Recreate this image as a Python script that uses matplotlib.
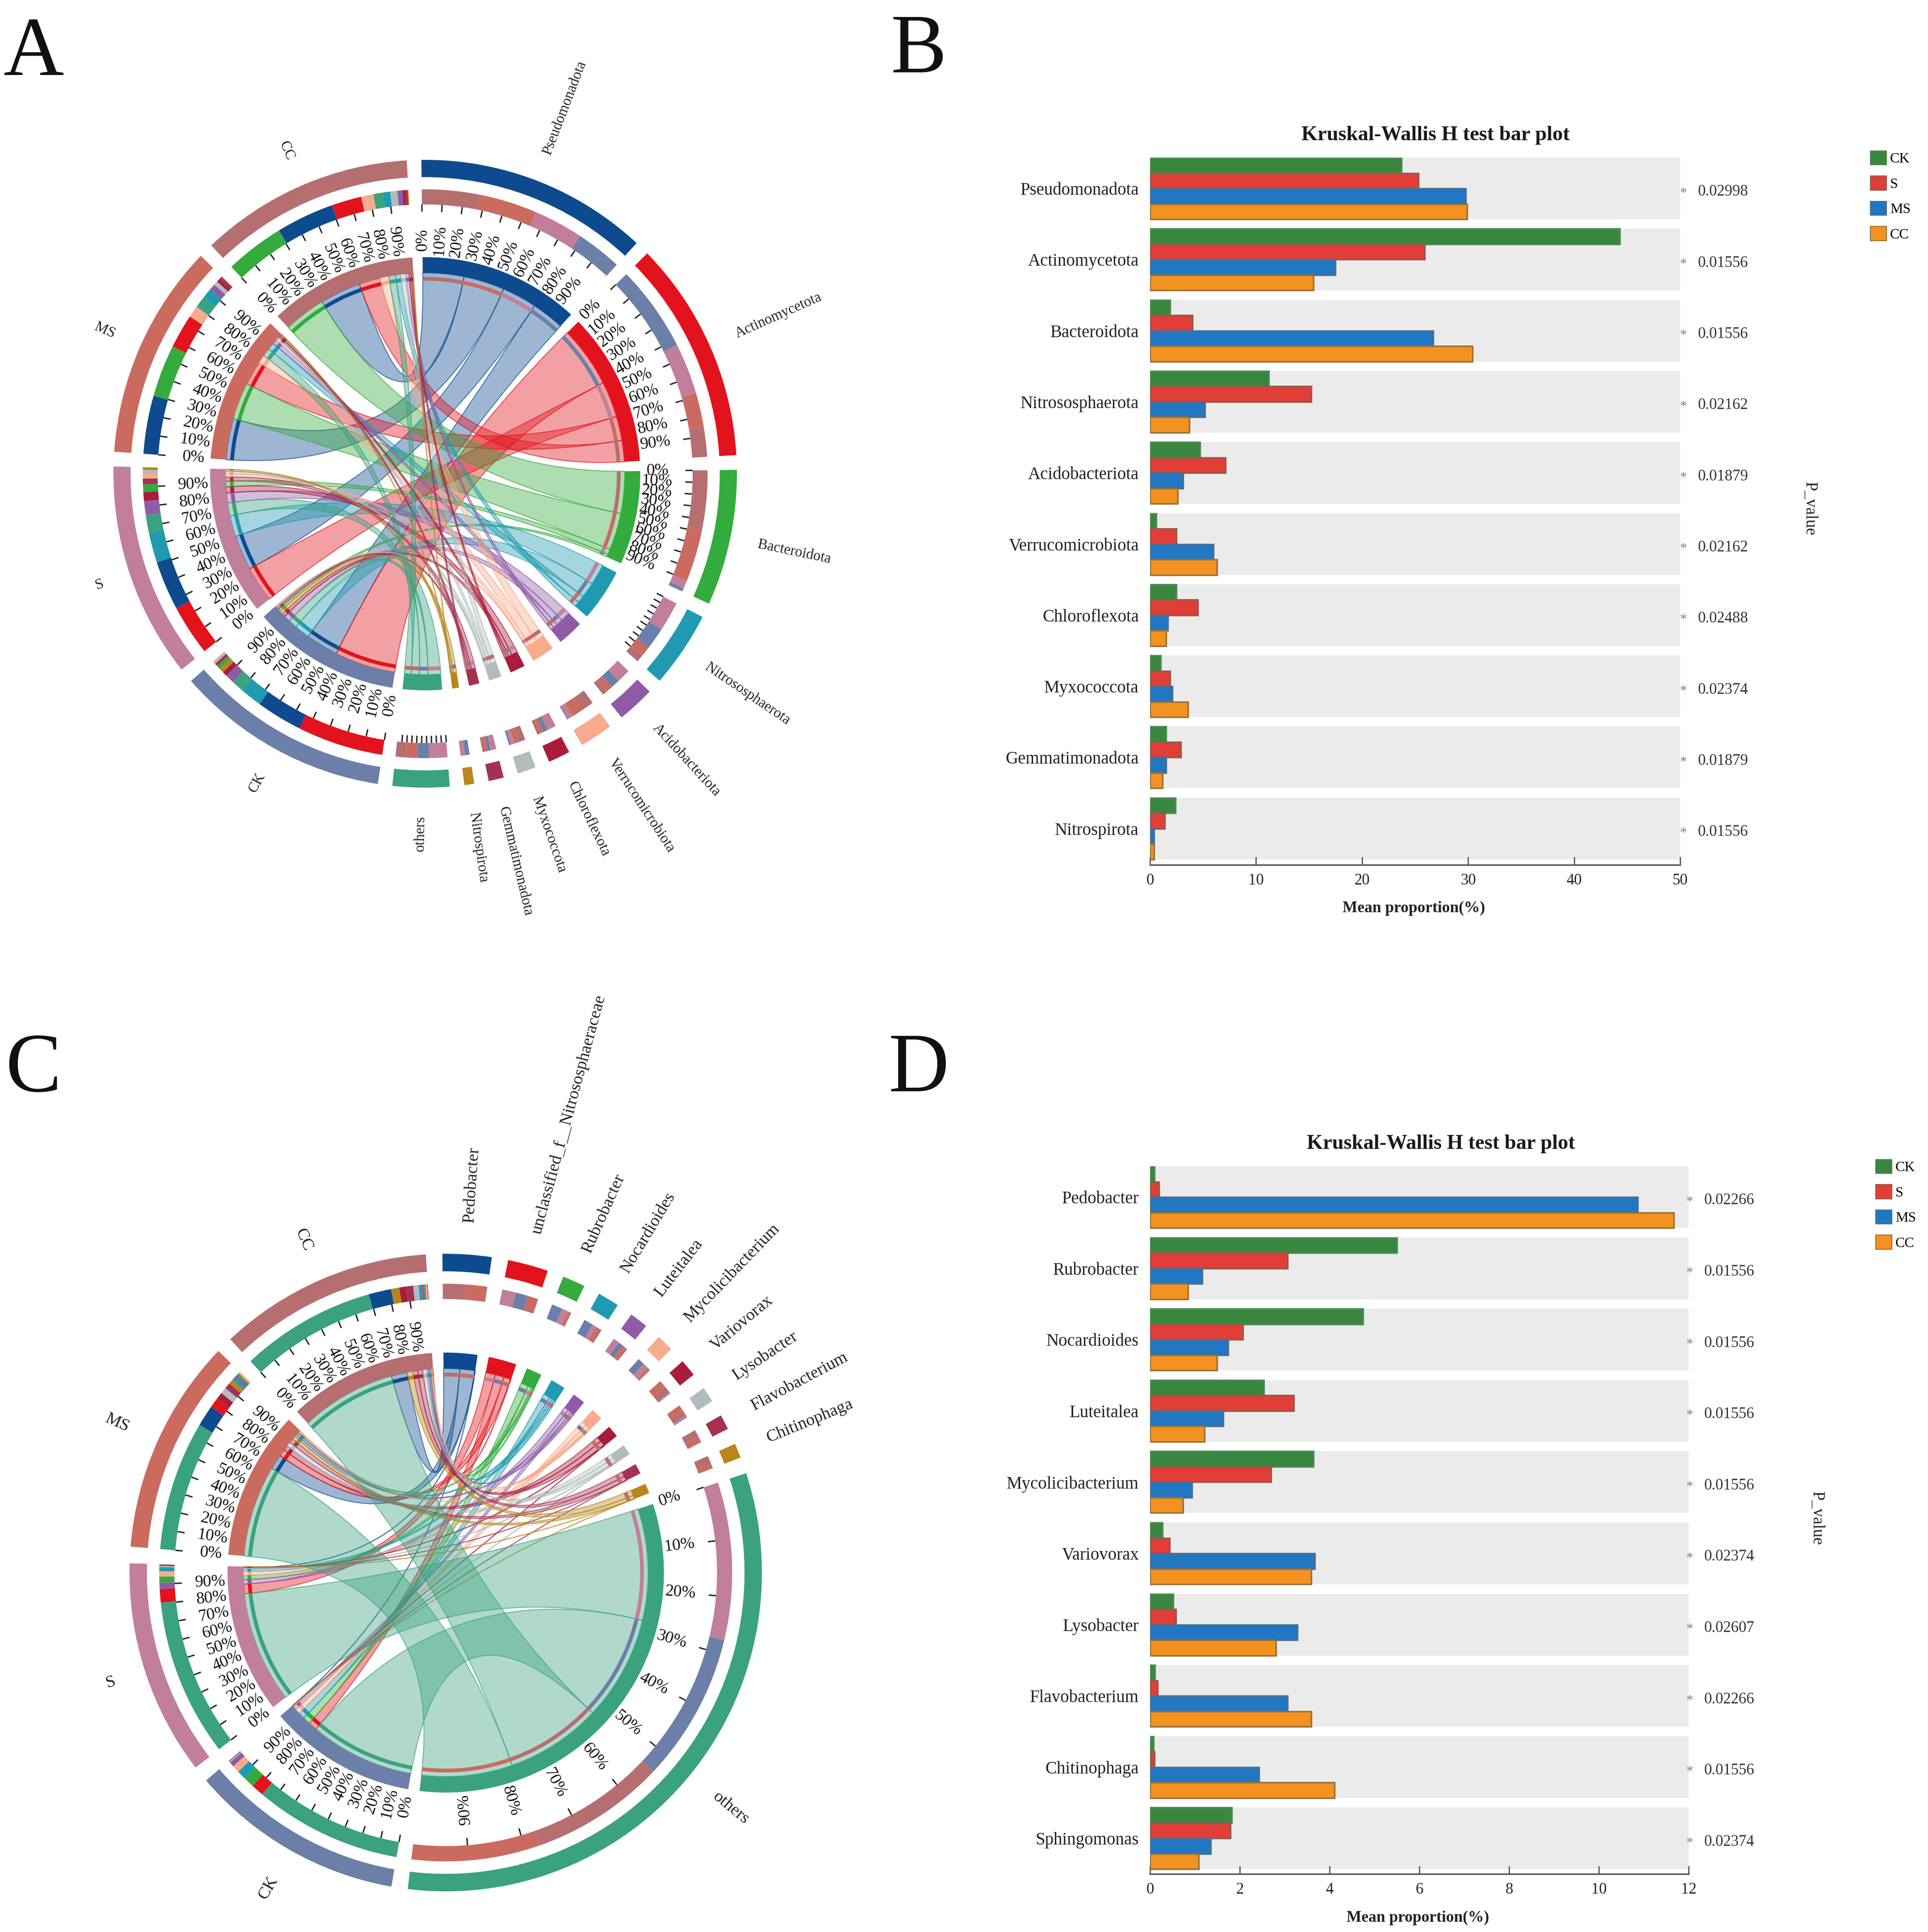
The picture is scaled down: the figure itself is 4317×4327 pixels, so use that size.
import numpy as np
import matplotlib
matplotlib.use("Agg")
import matplotlib.pyplot as plt
from matplotlib.patches import Wedge, PathPatch, Patch
from matplotlib.path import Path

plt.rcParams['font.family'] = ['Liberation Serif', 'DejaVu Serif']

W, H = 4317, 4327
DPI = 100

samples = ['CK', 'S', 'MS', 'CC']
sample_colors = ['#6b7fa9', '#c27f9b', '#cb6b60', '#b56f70']
bar_colors = ['#39873f', '#e23e38', '#2277c3', '#f39220']
edge_colors = ['#4f8a55', '#8f5a4a', '#4f6d8a', '#96703a']
taxa_colors = ['#0e4a8e', '#e2131c', '#33ab3d', '#1f9ab0', '#8f5ba6', '#f8aa8c',
               '#a81d3a', '#b1bcbc', '#a53150', '#b8861e', '#3aa27e']

# panel A / B
phyla = ['Pseudomonadota', 'Actinomycetota', 'Bacteroidota', 'Nitrososphaerota',
         'Acidobacteriota', 'Verrucomicrobiota', 'Chloroflexota', 'Myxococcota',
         'Gemmatimonadota', 'Nitrospirota']
phyla_ck = [23.7, 44.3, 1.9, 11.2, 4.7, 0.6, 2.5, 1.0, 1.5, 2.4]
phyla_s = [25.3, 25.9, 4.0, 15.2, 7.1, 2.5, 4.5, 1.9, 2.9, 1.4]
phyla_ms = [29.8, 17.5, 26.7, 5.2, 3.1, 6.0, 1.7, 2.1, 1.5, 0.4]
phyla_cc = [29.9, 15.4, 30.4, 3.7, 2.6, 6.3, 1.5, 3.6, 1.2, 0.4]
phyla_others = [6.2, 9.3, 6.0, 5.0]
phyla_p = ['0.02998', '0.01556', '0.01556', '0.02162', '0.01879',
           '0.02162', '0.02488', '0.02374', '0.01879', '0.01556']

# panel D
genera = ['Pedobacter', 'Rubrobacter', 'Nocardioides', 'Luteitalea', 'Mycolicibacterium',
          'Variovorax', 'Lysobacter', 'Flavobacterium', 'Chitinophaga', 'Sphingomonas']
genera_ck = [0.1, 5.5, 4.75, 2.54, 3.64, 0.28, 0.52, 0.11, 0.08, 1.82]
genera_s = [0.2, 3.06, 2.07, 3.2, 2.7, 0.44, 0.58, 0.17, 0.1, 1.79]
genera_ms = [10.87, 1.16, 1.74, 1.63, 0.94, 3.67, 3.28, 3.06, 2.43, 1.35]
genera_cc = [11.67, 0.85, 1.49, 1.21, 0.74, 3.59, 2.81, 3.59, 4.11, 1.08]
genera_p = ['0.02266', '0.01556', '0.01556', '0.01556', '0.01556',
            '0.02374', '0.02607', '0.02266', '0.01556', '0.02374']

# panel C
chord_genera = ['Pedobacter', 'unclassified_f__Nitrososphaeraceae', 'Rubrobacter', 'Nocardioides',
                'Luteitalea', 'Mycolicibacterium', 'Variovorax', 'Lysobacter',
                'Flavobacterium', 'Chitinophaga', 'others']
chord_ck = [0.1, 6.5, 5.5, 4.75, 2.54, 3.64, 0.28, 0.52, 0.11, 0.08, 76.0]
chord_s = [0.2, 7.0, 3.06, 2.07, 3.2, 2.7, 0.44, 0.58, 0.17, 0.1, 80.5]
chord_ms = [10.87, 5.0, 1.16, 1.74, 1.63, 0.94, 3.67, 3.28, 3.06, 2.43, 66.2]
chord_cc = [11.67, 0.4, 0.85, 1.49, 1.21, 0.74, 3.59, 2.81, 3.59, 4.11, 69.5]


def xy(theta, r):
    t = np.radians(theta)
    return r * np.sin(t), r * np.cos(t)


def ring(ax, a, b, r_out, r_in, color):
    ax.add_patch(Wedge((0, 0), r_out, 90 - b, 90 - a, width=r_out - r_in, fc=color, ec='none'))


def ribbon(ax, a1, a2, b1, b2, r, color):
    arc_a = [xy(t, r) for t in np.linspace(a1, a2, 12)]
    arc_b = [xy(t, r) for t in np.linspace(b1, b2, 12)]
    verts = arc_a + [(0, 0)] + arc_b + [(0, 0), arc_a[0], arc_a[0]]
    codes = [Path.MOVETO] + [Path.LINETO] * 11 + [Path.CURVE3, Path.CURVE3] + [Path.LINETO] * 11 + \
            [Path.CURVE3, Path.CURVE3, Path.CLOSEPOLY]
    col = matplotlib.colors.to_rgba(color, 0.4)
    edge = matplotlib.colors.to_rgba(color, 0.7)
    ax.add_patch(PathPatch(Path(verts, codes), fc=col, ec=edge, lw=1.5))


def percent_scale(ax, a, b, labels):
    for i in range(10):
        t = a + (b - a) * i / 10
        x0, y0 = xy(t, 0.858)
        x1, y1 = xy(t, 0.835)
        ax.plot([x0, x1], [y0, y1], color='#222222', lw=2.2, solid_capstyle='butt')
        if labels:
            rot = 90 - t if t < 170 else 270 - t
            x, y = xy(t, 0.745)
            ax.text(x, y, f'{i * 10}%', rotation=rot, rotation_mode='anchor',
                    ha='center', va='center', fontsize=27, color='#111111')


def sector_name(ax, theta, name, r, size):
    x, y = xy(theta, r)
    if theta < 180:
        ax.text(x, y, name, rotation=90 - theta, rotation_mode='anchor', ha='left', va='center',
                fontsize=size, color='#222222')
    else:
        ax.text(x, y, name, rotation=270 - theta, rotation_mode='anchor', ha='right', va='center',
                fontsize=size, color='#222222')


def chord(fig, cx, cy, rx, ry, names, matrix, first, gap, name_r, name_size):
    half_x, half_y = 1.4 * rx, 1.4 * ry
    ax = fig.add_axes([(cx - half_x) / W, 1 - (cy + half_y) / H, 2 * half_x / W, 2 * half_y / H])
    ax.set_xlim(-1.4, 1.4)
    ax.set_ylim(-1.4, 1.4)
    ax.axis('off')

    matrix = np.array(matrix)  # samples x taxa
    n_t = len(names)
    k = (360 - gap * (n_t + 4)) / matrix.sum() / 2

    taxa_tot = matrix.sum(axis=0)
    samp_tot = matrix.sum(axis=1)
    pos = first
    taxa_span, samp_span = [], []
    for v in taxa_tot:
        taxa_span.append((pos, pos + v * k))
        pos += v * k + gap
    for v in samp_tot:
        samp_span.append((pos, pos + v * k))
        pos += v * k + gap

    # stacked order is largest first inside every sector
    t_seg = {}
    for j in range(n_t):
        p = taxa_span[j][0]
        for i in np.argsort(-matrix[:, j]):
            t_seg[(i, j)] = (p, p + matrix[i, j] * k)
            p += matrix[i, j] * k
    s_seg = {}
    for i in range(4):
        p = samp_span[i][0]
        for j in np.argsort(-matrix[i, :]):
            s_seg[(i, j)] = (p, p + matrix[i, j] * k)
            p += matrix[i, j] * k

    for j in range(n_t):
        for i in range(4):
            a1, a2 = t_seg[(i, j)]
            b1, b2 = s_seg[(i, j)]
            ribbon(ax, a1, a2, b1, b2, 0.64, taxa_colors[j])

    for j in range(n_t):
        a, b = taxa_span[j]
        ring(ax, a, b, 1.0, 0.945, taxa_colors[j])
        ring(ax, a, b, 0.69, 0.64, taxa_colors[j])
        for i in range(4):
            s1, s2 = t_seg[(i, j)]
            ring(ax, s1, s2, 0.906, 0.858, sample_colors[i])
            ring(ax, s1, s2, 0.627, 0.615, sample_colors[i])
        if taxa_tot[j] > 25:
            percent_scale(ax, a, b, taxa_tot[j] > 60)
        sector_name(ax, (a + b) / 2, names[j], name_r, name_size)

    for i in range(4):
        a, b = samp_span[i]
        ring(ax, a, b, 1.0, 0.945, sample_colors[i])
        ring(ax, a, b, 0.69, 0.64, sample_colors[i])
        for j in range(n_t):
            s1, s2 = s_seg[(i, j)]
            ring(ax, s1, s2, 0.906, 0.858, taxa_colors[j])
            ring(ax, s1, s2, 0.627, 0.615, taxa_colors[j])
        percent_scale(ax, a, b, True)
        sector_name(ax, (a + b) / 2, samples[i], name_r, name_size)
    return ax


def bars(fig, left, right, top, bottom, first_mid, pitch, band, names, series, pvals, xmax, ticks,
         star_x, p_x, title_xy, xlabel_xy, pvalue_xy, legend_xy):
    ax = fig.add_axes([left / W, 1 - bottom / H, (right - left) / W, (bottom - top) / H])
    y = np.arange(len(names))
    ax.set_xlim(0, xmax)
    ax.set_ylim((bottom - first_mid) / pitch, (top - first_mid) / pitch)
    h = band / pitch
    ax.barh(y, [xmax] * len(names), height=h, color='#ebebeb', zorder=1)
    for k, vals in enumerate(series):
        ax.barh(y - h / 2 + h / 4 * (k + 0.5), vals, height=h / 4, color=bar_colors[k],
                edgecolor=edge_colors[k], linewidth=2.5, zorder=2)
    for s in ['top', 'right', 'left']:
        ax.spines[s].set_visible(False)
    ax.spines['bottom'].set_color('#555555')
    ax.spines['bottom'].set_linewidth(2.5)
    ax.set_yticks(y)
    ax.set_yticklabels(names, fontsize=28, color='#222222')
    ax.tick_params(axis='y', length=0, pad=18)
    ax.set_xticks(ticks)
    ax.tick_params(axis='x', labelsize=25, direction='in', length=13, width=2, pad=14,
                   color='#555555', labelcolor='#222222')
    trans = ax.get_yaxis_transform()
    for i, p in zip(y, pvals):
        ax.text(star_x, i + 0.07, '*', transform=trans, color='#b06a80', fontsize=22, ha='center', va='center')
        ax.text(p_x, i + 0.05, p, transform=trans, fontsize=25, ha='left', va='center', color='#333333')
    fig.text(title_xy[0] / W, 1 - title_xy[1] / H, 'Kruskal-Wallis H test bar plot', fontsize=33.5,
             fontweight='bold', ha='center', va='center', color='#1a1a1a')
    fig.text(xlabel_xy[0] / W, 1 - xlabel_xy[1] / H, 'Mean proportion(%)', fontsize=25.5, fontweight='bold',
             ha='center', va='center', color='#222222')
    fig.text(pvalue_xy[0] / W, 1 - pvalue_xy[1] / H, 'P_value', fontsize=27, rotation=-90,
             ha='center', va='center', color='#222222')
    handles = [Patch(fc=c, ec=e, lw=1.5, label=s) for c, e, s in zip(bar_colors, edge_colors, samples)]
    fig.legend(handles=handles, loc='upper left', bbox_to_anchor=(legend_xy[0] / W, 1 - legend_xy[1] / H),
               frameon=False, fontsize=23, handlelength=1.13, handleheight=1.13,
               handletextpad=0.25, labelspacing=0.72, borderpad=0, borderaxespad=0)
    return ax


fig = plt.figure(figsize=(W / DPI, H / DPI), dpi=DPI)

chord(fig, 952, 1061, 698, 703, phyla + ['others'],
      [phyla_ck + [phyla_others[0]], phyla_s + [phyla_others[1]],
       phyla_ms + [phyla_others[2]], phyla_cc + [phyla_others[3]]],
      -0.7, 2.7, 1.09, 23.5)
chord(fig, 998, 3522, 708, 714, chord_genera, [chord_ck, chord_s, chord_ms, chord_cc],
      -0.6, 3.0, 1.10, 27.5)

bars(fig, 2575, 3762, 353, 1937, 422, 159.3, 138, phyla,
     [phyla_ck, phyla_s, phyla_ms, phyla_cc], phyla_p, 50, [0, 10, 20, 30, 40, 50],
     1.0056, 1.033, (3214, 303), (3166, 2034), (4052, 1140), (4188, 338))
bars(fig, 2575, 3781, 2612, 4197, 2681, 159.6, 138, genera,
     [genera_ck, genera_s, genera_ms, genera_cc], genera_p, 12, [0, 2, 4, 6, 8, 10, 12],
     1.0017, 1.029, (3226, 2562), (3175, 4295), (4068, 3400), (4200, 2597))

for s, x, y in [('A', 75, 122), ('B', 2057, 117), ('C', 75, 2398), ('D', 2057, 2398)]:
    fig.text(x / W, 1 - y / H, s, fontsize=135, ha='center', va='center', color='#111111')

fig.savefig('out.png', dpi=DPI)
